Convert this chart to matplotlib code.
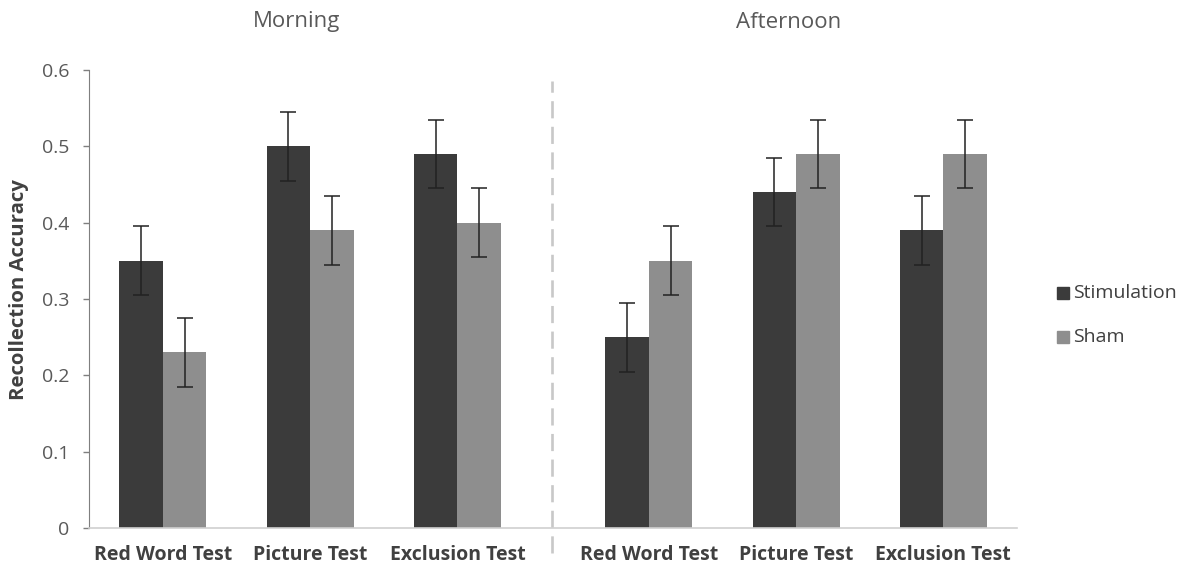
import matplotlib
matplotlib.use("Agg")
import matplotlib.pyplot as plt
from matplotlib.patches import Rectangle
import numpy as np

plt.rcParams['font.family'] = ['Open Sans', 'DejaVu Sans']

# recollection accuracy per test, morning block then afternoon block
tests = ["Red Word Test", "Picture Test", "Exclusion Test"]
sessions = ["Morning", "Afternoon"]
stim_morning = [0.35, 0.50, 0.49]
sham_morning = [0.23, 0.39, 0.40]
stim_afternoon = [0.25, 0.44, 0.39]
sham_afternoon = [0.35, 0.49, 0.49]
err_stim = [0.045, 0.045, 0.045, 0.045, 0.045, 0.045]
err_sham = [0.045, 0.045, 0.045, 0.045, 0.045, 0.045]

stim_col = '#3b3b3b'
sham_col = '#8e8e8e'
text_col = '#595959'

fig = plt.figure(figsize=(11.84, 5.69), dpi=100)
ax = fig.add_axes([89/1184, 41/569, (1017-89)/1184, (528-70)/569])

gap = 1.30  # spacing between the two session blocks
xpos = np.array([0, 1, 2, 2 + gap, 3 + gap, 4 + gap])
w = 0.295
stim = stim_morning + stim_afternoon
sham = sham_morning + sham_afternoon

ax.bar(xpos - w/2, stim, w, color=stim_col, zorder=2)
ax.bar(xpos + w/2, sham, w, color=sham_col, zorder=2)
ax.errorbar(xpos - w/2, stim, yerr=err_stim, fmt='none', ecolor='#222222',
            elinewidth=1.1, capsize=6, capthick=1.1, zorder=3)
ax.errorbar(xpos + w/2, sham, yerr=err_sham, fmt='none', ecolor='#222222',
            elinewidth=1.1, capsize=6, capthick=1.1, zorder=3)

ax.set_xlim(-0.502, 4 + gap + 0.50)
ax.set_ylim(0, 0.6)
ax.set_yticks(np.arange(0, 0.61, 0.1))
ax.set_yticklabels(['0', '0.1', '0.2', '0.3', '0.4', '0.5', '0.6'])
ax.set_xticks(xpos)
ax.set_xticklabels(tests + tests, fontweight='bold', fontsize=14, color='#404040')

ax.tick_params(axis='y', length=4, width=1, color='#7f7f7f', labelsize=14,
               labelcolor=text_col, pad=10)
ax.tick_params(axis='x', length=0, pad=12)
for s in ['top', 'right']:
    ax.spines[s].set_visible(False)
ax.spines['left'].set_color('#7f7f7f')
ax.spines['bottom'].set_color('#d0d0d0')
ax.spines['bottom'].set_linewidth(1.2)

# dashed divider between the morning and afternoon blocks
xdiv = 2 + gap / 2 - 0.01
ax.plot([xdiv, xdiv], [-0.033, 0.585], color='#c8c8c8', lw=1.9,
        dashes=(6.5, 3.2), clip_on=False, zorder=1)

fig.text(19/1184, 1 - 290/569, "Recollection Accuracy", rotation=90,
         ha='center', va='center', fontsize=14.7, fontweight='bold', color='#404040')

fig.text(297/1184, 1 - 22/569, sessions[0], ha='center', va='center',
         fontsize=16, color=text_col)
fig.text(789/1184, 1 - 22/569, sessions[1], ha='center', va='center',
         fontsize=16, color=text_col)

# legend drawn as squares + labels on the right
for i, (lab, col) in enumerate([("Stimulation", stim_col), ("Sham", sham_col)]):
    yc = 293 + i * 44
    fig.patches.append(Rectangle((1057/1184, 1 - (yc + 6)/569), 12/1184, 12/569,
                                 transform=fig.transFigure, color=col, figure=fig))
    fig.text(1073/1184, 1 - yc/569, lab, ha='left', va='center',
             fontsize=14, color='#404040')

fig.savefig('out.png', dpi=100)
